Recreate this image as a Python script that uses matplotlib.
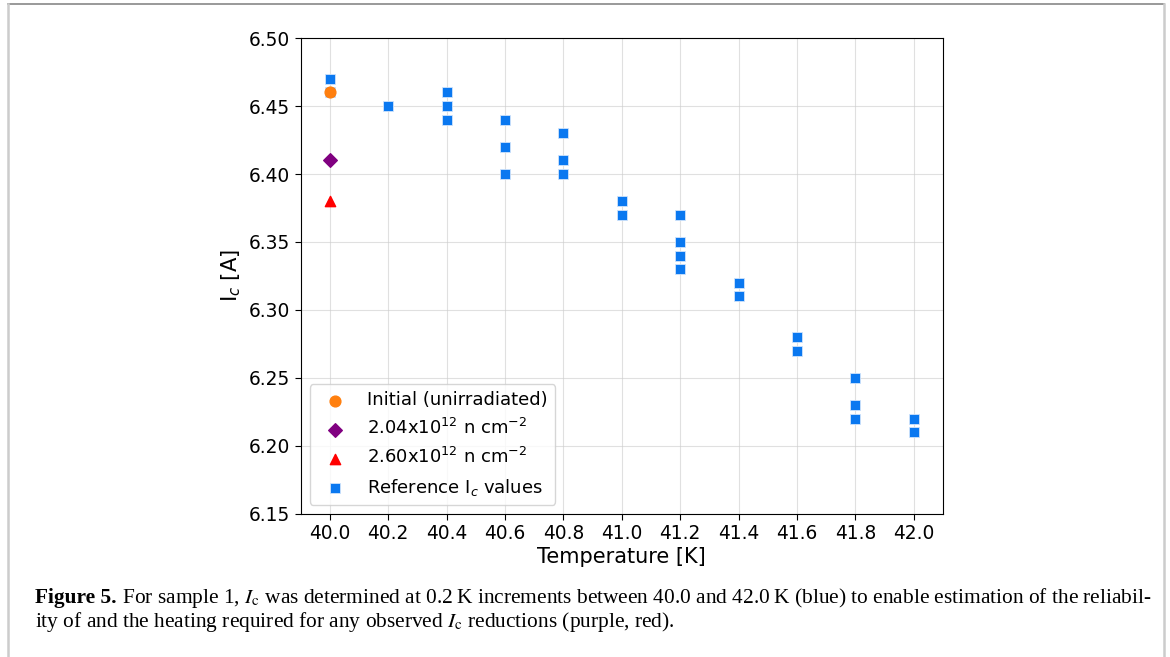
import matplotlib
matplotlib.use("Agg")
import matplotlib.pyplot as plt
from matplotlib.lines import Line2D

# reference Ic scan (blue), temperature in K, Ic in A
REF_T = [40.0, 40.0, 40.2, 40.4, 40.4, 40.4, 40.6, 40.6, 40.6, 40.8, 40.8, 40.8,
         41.0, 41.0, 41.2, 41.2, 41.2, 41.2, 41.4, 41.4, 41.6, 41.6,
         41.8, 41.8, 41.8, 42.0, 42.0]
REF_IC = [6.47, 6.46, 6.45, 6.46, 6.45, 6.44, 6.44, 6.42, 6.40, 6.43, 6.41, 6.40,
          6.38, 6.37, 6.37, 6.35, 6.34, 6.33, 6.32, 6.31, 6.28, 6.27,
          6.25, 6.23, 6.22, 6.22, 6.21]

INITIAL_T, INITIAL_IC = [40.0], [6.46]
FLU1_T, FLU1_IC = [40.0], [6.41]
FLU2_T, FLU2_IC = [40.0], [6.38]

Y_TICKS = [6.15, 6.20, 6.25, 6.30, 6.35, 6.40, 6.45, 6.50]
X_TICKS = [40.0, 40.2, 40.4, 40.6, 40.8, 41.0, 41.2, 41.4, 41.6, 41.8, 42.0]

W, H = 1170, 657
fig = plt.figure(figsize=(W / 100, H / 100), dpi=100)
ax = fig.add_axes([0.257, 0.218, 0.549, 0.724])

ax.scatter(INITIAL_T, INITIAL_IC, marker="o", s=60, color="#ff7f0e",
           label="Initial (unirradiated)", zorder=5)
ax.scatter(FLU1_T, FLU1_IC, marker="D", s=48, color="purple",
           label="2.04x10$^{12}$ n cm$^{-2}$", zorder=5)
ax.scatter(FLU2_T, FLU2_IC, marker="^", s=55, color="red",
           label="2.60x10$^{12}$ n cm$^{-2}$", zorder=5)
ax.scatter(REF_T, REF_IC, marker="s", s=62, color="#0a78f0",
           edgecolor="#cfe3fb", linewidth=0.6,
           label="Reference I$_c$ values", zorder=4)

ax.set_ylim(6.15, 6.50)
ax.set_xlim(39.9, 42.1)
ax.set_xticks(X_TICKS)
ax.set_xticklabels([f"{t:.1f}" for t in X_TICKS])
ax.set_yticks(Y_TICKS)
ax.set_yticklabels([f"{v:.2f}" for v in Y_TICKS])
ax.tick_params(labelsize=13.4, length=4)
ax.set_xlabel("Temperature [K]", fontsize=15, labelpad=3)
ax.set_ylabel("I$_c$ [A]", fontsize=15.2)
ax.grid(True, color="#cccccc", alpha=0.6, linewidth=0.8, zorder=0)
ax.set_axisbelow(True)
ax.legend(loc="lower left", fontsize=13, handletextpad=0.8)

# caption underneath the figure
cap_font = dict(family="Liberation Serif", fontsize=15.4)
x0 = 35 / W
t1 = fig.text(x0, 1 - 603 / H, "Figure 5.", fontweight="bold",
              va="baseline", **cap_font)
bb = t1.get_window_extent(fig.canvas.get_renderer())
fig.text(x0 + bb.width / W, 1 - 603 / H,
         " For sample 1, $I_\\mathrm{c}$ was determined at 0.2\u2009K increments between "
         "40.0 and 42.0\u2009K (blue) to enable estimation of the reliabil-",
         va="baseline", math_fontfamily="stix", **cap_font)
fig.text(x0, 1 - 627 / H,
         "ity of and the heating required for any observed $I_\\mathrm{c}$ reductions (purple, red).",
         va="baseline", math_fontfamily="stix", **cap_font)

# page frame lines
fig.add_artist(Line2D([0.007, 0.995], [0.994, 0.994], color="#888888", lw=1.2))
fig.add_artist(Line2D([0.007, 0.007], [0.0, 0.994], color="#cccccc", lw=1.8))
fig.add_artist(Line2D([0.995, 0.995], [0.0, 0.994], color="#cccccc", lw=1.8))

fig.savefig("out.png", dpi=100)
